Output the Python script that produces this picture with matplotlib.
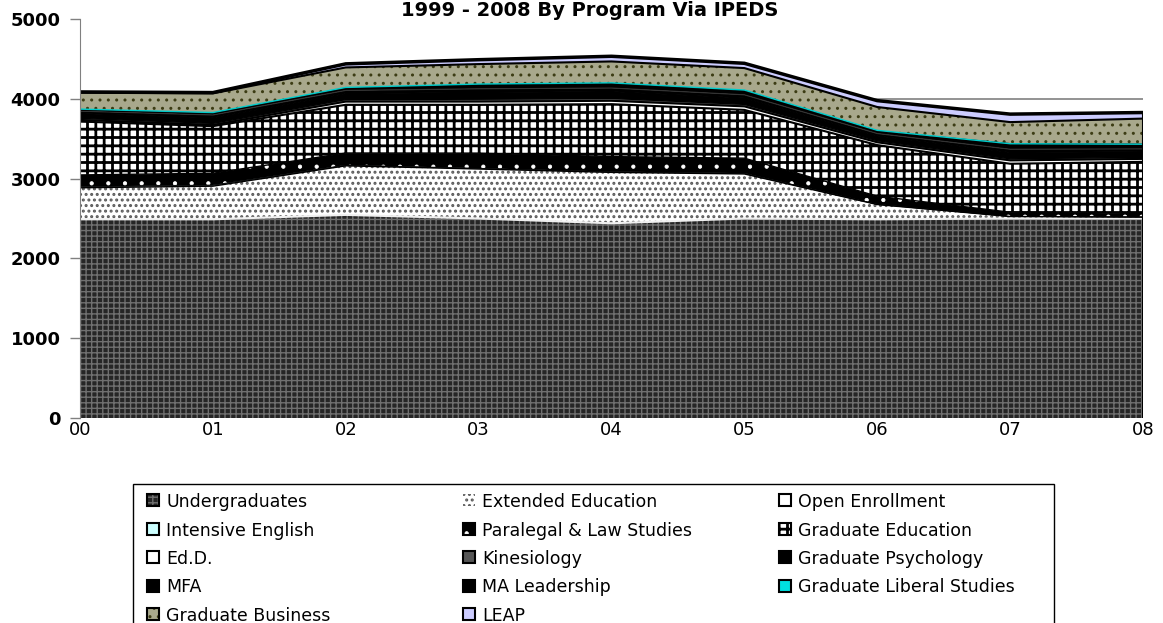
import matplotlib.pyplot as plt
import matplotlib.patches as mpatches
import numpy as np

years = ['00', '01', '02', '03', '04', '05', '06', '07', '08']

# enrollment by program (stack order bottom -> top)
undergraduates = [2490, 2490, 2545, 2500, 2440, 2500, 2490, 2500, 2500]
extended_education = [395, 415, 615, 620, 638, 558, 185, 25, 18]
open_enrollment = [10, 10, 5, 5, 5, 5, 0, 0, 0]
intensive_english = [5, 5, 5, 5, 5, 5, 5, 0, 0]
paralegal = [146, 147, 150, 188, 188, 188, 100, 54, 45]
graduate_education = [669, 590, 605, 607, 657, 605, 640, 607, 647]
edd = [20, 15, 40, 40, 42, 44, 35, 42, 37]
kinesiology = [20, 20, 25, 30, 30, 25, 20, 20, 20]
graduate_psychology = [60, 70, 75, 85, 85, 80, 60, 80, 70]
mfa = [30, 35, 40, 45, 45, 40, 30, 40, 35]
ma_leadership = [16, 21, 28, 50, 55, 50, 30, 69, 59]
graduate_liberal = [10, 10, 10, 10, 10, 10, 10, 0, 0]
graduate_business = [205, 240, 250, 250, 268, 275, 292, 271, 321]
leap = [10, 10, 45, 55, 65, 60, 80, 100, 76]

# label, values, face, hatch, hatch colour, hatch width, top line colour, top line width
series = [
    ('Undergraduates', undergraduates, '#262626', '+++', '#707070', 1.0, '#f0f0f0', 1.5),
    ('Extended Education', extended_education, 'white', '...', '#5a5a5a', 1.4, 'black', 1.0),
    ('Open Enrollment', open_enrollment, 'white', None, None, 1.0, 'black', 0.5),
    ('Intensive English', intensive_english, '#ccffff', None, None, 1.0, 'black', 0.5),
    ('Paralegal & Law Studies', paralegal, 'black', '.', 'white', 0.6, 'black', 1.0),
    ('Graduate Education', graduate_education, 'white', '++', 'black', 2.0, 'black', 1.5),
    ('Ed.D.', edd, 'white', None, None, 1.0, 'black', 1.5),
    ('Kinesiology', kinesiology, '#555555', None, None, 1.0, 'black', 1.0),
    ('Graduate Psychology', graduate_psychology, 'black', None, None, 1.0, 'black', 1.0),
    ('MFA', mfa, 'black', None, None, 1.0, '#333333', 0.8),
    ('MA Leadership', ma_leadership, 'black', None, None, 1.0, 'black', 1.0),
    ('Graduate Liberal Studies', graduate_liberal, '#00e0e0', None, None, 1.0, '#00cccc', 1.0),
    ('Graduate Business', graduate_business, '#a8a88c', '..', '#3c3c14', 1.0, 'black', 1.5),
    ('LEAP', leap, '#ccccff', None, None, 1.0, 'black', 2.5),
]

W, H = 1163, 623
fig = plt.figure(figsize=(W / 100, H / 100), dpi=100)
ax = fig.add_axes([80 / W, 1 - 418 / H, (1143 - 80) / W, (418 - 19) / H])

x = np.arange(len(years))
bottom = np.zeros(len(years))
tops = []
for label, vals, face, hatch, hcol, hlw, lcol, llw in series:
    top = bottom + np.array(vals, dtype=float)
    ax.fill_between(x, bottom, top, facecolor=face, linewidth=0, zorder=2)
    if hatch:
        with plt.rc_context({'hatch.linewidth': hlw}):
            ax.fill_between(x, bottom, top, facecolor='none', edgecolor=hcol,
                            hatch=hatch, linewidth=0, zorder=3)
    tops.append((top, lcol, llw))
    bottom = top

for top, lcol, llw in tops:
    ax.plot(x, top, color=lcol, lw=llw, zorder=4, solid_joinstyle='miter')
ax.plot([8, 8], [0, bottom[-1]], color='black', lw=1.5, zorder=4)

# lone gridline at 4000 seen on the right
ax.axhline(4000, color='#808080', lw=1.2, zorder=1)

ax.set_xlim(0, 8)
ax.set_ylim(0, 5000)
ax.set_xticks(x)
ax.set_xticklabels(years, fontsize=13)
ax.set_yticks(range(0, 5001, 1000))
ax.set_yticklabels([str(v) for v in range(0, 5001, 1000)], fontsize=13, fontweight='bold')
ax.tick_params(axis='x', length=0, pad=2.5)
ax.tick_params(axis='y', length=7, width=1, color='#808080', pad=7)
for s in ['top', 'right', 'bottom']:
    ax.spines[s].set_visible(False)
ax.spines['left'].set_color('#808080')
ax.spines['left'].set_zorder(5)

fig.text(0.507, 1 - 16 / H, '1999 - 2008 By Program Via IPEDS',
         ha='center', va='baseline', fontsize=14, fontweight='bold')


# legend drawn by hand in pixel positions, filled row by row like the original
def fx(px):
    return px / W


def fy(py):
    return 1 - py / H


frame = mpatches.Rectangle((fx(133), fy(640)), fx(1054) - fx(133), fy(484) - fy(640),
                           transform=fig.transFigure, facecolor='white',
                           edgecolor='black', lw=1.0, clip_on=False)
fig.add_artist(frame)

col_x = [147, 463, 779]
row_y = [500, 528.5, 557, 585.5, 614]
box = 12
for i, (label, vals, face, hatch, hcol, hlw, lcol, llw) in enumerate(series):
    cx = col_x[i % 3]
    cy = row_y[i // 3]
    xy = (fx(cx), fy(cy + box / 2))
    w, h = fx(cx + box) - fx(cx), fy(cy - box / 2) - fy(cy + box / 2)
    fig.add_artist(mpatches.Rectangle(xy, w, h, transform=fig.transFigure,
                                      facecolor=face, lw=0))
    if hatch:
        with plt.rc_context({'hatch.linewidth': hlw}):
            fig.add_artist(mpatches.Rectangle(xy, w, h, transform=fig.transFigure,
                                              facecolor='none', edgecolor=hcol,
                                              hatch=hatch, lw=0))
    if label != 'Extended Education':
        fig.add_artist(mpatches.Rectangle(xy, w, h, transform=fig.transFigure,
                                          facecolor='none', edgecolor='black', lw=1.5))
    fig.text(fx(cx + 19), fy(cy), label, ha='left', va='center_baseline', fontsize=12.5)

fig.savefig('out.png', dpi=100)
